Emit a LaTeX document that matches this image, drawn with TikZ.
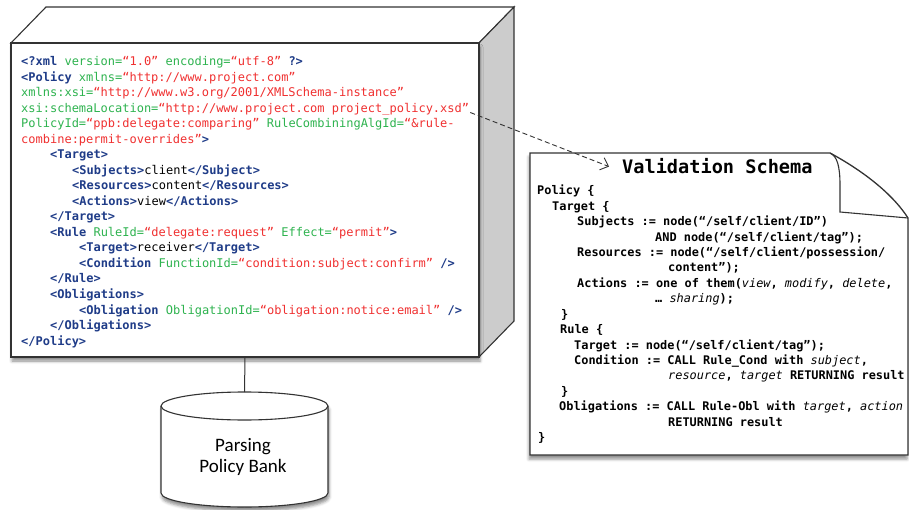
\documentclass[tikz,border=0pt]{standalone}
\usepackage{fontspec}
\setmonofont{DejaVu Sans Mono}
\newfontfamily\dbfont{Carlito}
\usetikzlibrary{shadows.blur,arrows.meta}
\definecolor{xtag}{HTML}{1F3C88}
\definecolor{xattr}{HTML}{2EB34F}
\definecolor{xval}{HTML}{F03030}
\definecolor{edgegray}{HTML}{333333}
\definecolor{sidegray}{HTML}{CCCCCC}
\newcommand{\xtg}[1]{\textcolor{xtag}{\bfseries #1}}
\newcommand{\xat}[1]{\textcolor{xattr}{#1}}
\newcommand{\xvl}[1]{\textcolor{xval}{#1}}
\newcommand{\schit}[1]{{\mdseries\itshape #1}}
\tikzset{
  xmlline/.style={anchor=base west, inner sep=0pt, font=\ttfamily\fontsize{12}{14}\selectfont},
  schline/.style={anchor=base west, inner sep=0pt, font=\ttfamily\bfseries\fontsize{11.9}{14}\selectfont},
  boxedge/.style={draw=edgegray, line width=1.1pt},
  softshadow/.style={blur shadow={shadow xshift=1pt, shadow yshift=-4pt, shadow blur radius=3pt, shadow opacity=45}},
  dashlink/.style={draw=edgegray, line width=0.9pt, dash pattern=on 5pt off 3pt, -{Straight Barb[length=7pt,width=13pt,line width=0.9pt]}},
}
\begin{document}
\begin{tikzpicture}[x=1pt,y=-1pt]
\useasboundingbox (0,0) rectangle (909,510);
% 3D box
\path[boxedge, fill=white] (11,43) -- (46,7) -- (514,7) -- (479,43) -- cycle;
\path[boxedge, fill=sidegray] (479,43) -- (514,7) -- (514,321) -- (479,357) -- cycle;
\node[boxedge, fill=white, minimum width=468pt, minimum height=314pt, inner sep=0pt, softshadow] (front) at (245,200) {};
% XML text
\node[xmlline] (x1) at (21,66) {\xtg{<?xml} \xat{version=}\xvl{“1.0”} \xat{encoding=}\xvl{“utf-8”} \xtg{?>}};
\node[xmlline] (x2) at (21,81.5) {\xtg{<Policy} \xat{xmlns=}\xvl{“http://www.project.com”}};
\node[xmlline] (x3) at (21,97) {\xat{xmlns:xsi=}\xvl{“http://www.w3.org/2001/XMLSchema-instance”}};
\node[xmlline] (x4) at (21,112.5) {\xat{xsi:schemaLocation=}\xvl{“http://www.project.com project\_policy.xsd”}};
\node[xmlline] (x5) at (21,128) {\xat{PolicyId=}\xvl{“ppb:delegate:comparing”} \xat{RuleCombiningAlgId=}\xvl{“\&rule-}};
\node[xmlline] (x6) at (21,143.5) {\xvl{combine:permit-overrides”}\xtg{>}};
\node[xmlline] (x7) at (50,159) {\xtg{<Target>}};
\node[xmlline] (x8) at (72,174.5) {\xtg{<Subjects>}client\xtg{</Subject>}};
\node[xmlline] (x9) at (72,190) {\xtg{<Resources>}content\xtg{</Resources>}};
\node[xmlline] (x10) at (72,205.5) {\xtg{<Actions>}view\xtg{</Actions>}};
\node[xmlline] (x11) at (50,221) {\xtg{</Target>}};
\node[xmlline] (x12) at (50,236.5) {\xtg{<Rule} \xat{RuleId=}\xvl{“delegate:request”} \xat{Effect=}\xvl{“permit”}\xtg{>}};
\node[xmlline] (x13) at (79,252) {\xtg{<Target>}receiver\xtg{</Target>}};
\node[xmlline] (x14) at (79,267.5) {\xtg{<Condition} \xat{FunctionId=}\xvl{“condition:subject:confirm”} \xtg{/>}};
\node[xmlline] (x15) at (50,283) {\xtg{</Rule>}};
\node[xmlline] (x16) at (50,298.5) {\xtg{<Obligations>}};
\node[xmlline] (x17) at (79,314) {\xtg{<Obligation} \xat{ObligationId=}\xvl{“obligation:notice:email”} \xtg{/>}};
\node[xmlline] (x18) at (50,329.5) {\xtg{</Obligations>}};
\node[xmlline] (x19) at (21,345) {\xtg{</Policy>}};
% cylinder
\coordinate (dbtop) at (244.5,392);
\path[boxedge, fill=white, softshadow] (161,406) -- (161,493) arc[start angle=180, end angle=360, x radius=83.5pt, y radius=14pt] -- (328,406) arc[start angle=0, end angle=180, x radius=83.5pt, y radius=14pt] -- cycle;
\draw[boxedge] (161,406) arc[start angle=180, end angle=360, x radius=83.5pt, y radius=14pt];
\node[align=center, inner sep=0pt, font=\dbfont\fontsize{19}{21}\selectfont] (db) at (243,457) {Parsing\\Policy Bank};
\draw[draw=edgegray, line width=1pt] (front.south) -- (dbtop);
% validation schema
\path[boxedge, line width=1.3pt, fill=white, blur shadow={shadow xshift=-1pt, shadow yshift=-4pt, shadow blur radius=3pt, shadow opacity=45}] (530,153) -- (830,153) .. controls (856,167) and (890,190) .. (908,218) -- (908,455) -- (530,455) -- cycle;
\draw[boxedge] (830,153) .. controls (837,156) and (840,166) .. (840,185) -- (840,212) -- (908,218);
\node[anchor=base west, inner sep=0pt, font=\ttfamily\bfseries\fontsize{18.6}{22}\selectfont] (vs) at (622,174) {Validation Schema};
\node[schline] (s0) at (537,195) {Policy \{};
\node[schline] (s1) at (552,210.4) {Target \{};
\node[schline] (s2) at (577,225.8) {Subjects := node(“/self/client/ID”)};
\node[schline] (s3) at (655,241.2) {AND node(“/self/client/tag”);};
\node[schline] (s4) at (577,256.6) {Resources := node(“/self/client/possession/};
\node[schline] (s5) at (668,272) {content”);};
\node[schline] (s6) at (577,287.4) {Actions := one of them(\schit{view}, \schit{modify}, \schit{delete},};
\node[schline] (s7) at (655,302.8) {… \schit{sharing});};
\node[schline] (s8) at (561,318.2) {\}};
\node[schline] (s9) at (560,333.6) {Rule \{};
\node[schline] (s10) at (574,349) {Target := node(“/self/client/tag”);};
\node[schline] (s11) at (574,364.4) {Condition := CALL Rule\_Cond with \schit{subject},};
\node[schline] (s12) at (668,379.8) {\schit{resource}, \schit{target} RETURNING result};
\node[schline] (s13) at (561,395.2) {\}};
\node[schline] (s14) at (559,410.6) {Obligations := CALL Rule-Obl with \schit{target}, \schit{action}};
\node[schline] (s15) at (668,426) {RETURNING result};
\node[schline] (s16) at (538,441.4) {\}};
% dashed link
\draw[dashlink] ([xshift=1pt,yshift=3pt]x4.south east) -- ([xshift=-13pt]vs.west);
\end{tikzpicture}
\end{document}
